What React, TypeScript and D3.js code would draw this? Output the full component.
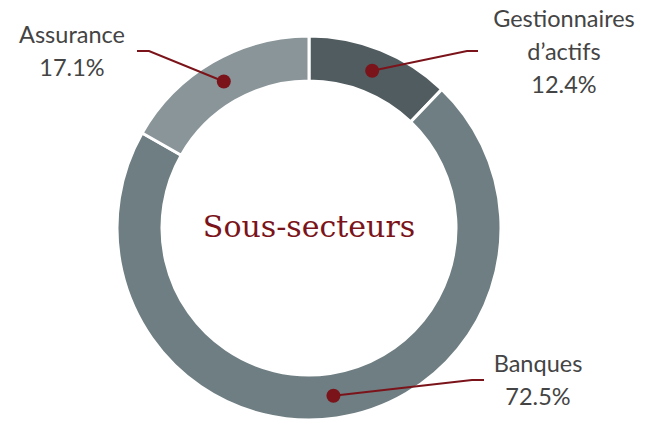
import React from "react";
import * as d3 from "d3";

const categories = ["Gestionnaires d’actifs", "Banques", "Assurance"];
const labelLines = [["Gestionnaires", "d’actifs"], ["Banques"], ["Assurance"]];
const values = [12.4, 72.5, 17.1];
const colors = ["#515c60", "#6f7e82", "#8a9599"];
const centerTitle = "Sous-secteurs";

// layout for the callouts (elbow point, line end, label centre, first baseline)
const callouts = [
  { elbow: [467, 51], end: [478, 51], tx: 564, ty: 27 },
  { elbow: [472, 380], end: [484, 380], tx: 538, ty: 372 },
  { elbow: [149, 51], end: [137, 51], tx: 72, ty: 43 },
];

const W = 653;
const H = 422;
const cx = 309;
const cy = 228;
const rOuter = 192;
const rInner = 147;
const accent = "#7b141a";

export default function App() {
  const pie = d3.pie<number>().sort(null).value((d) => d);
  const arcs = pie(values);
  const arc = d3.arc<d3.PieArcDatum<number>>().innerRadius(rInner).outerRadius(rOuter);
  const mid = d3.arc<d3.PieArcDatum<number>>().innerRadius((rInner + rOuter) / 2).outerRadius((rInner + rOuter) / 2);
  const lineGap = 33;
  return (
    <svg width={W} height={H} style={{ position: "absolute", left: 0, top: 0 }}>
      <g transform={`translate(${cx},${cy})`}>
        {arcs.map((a, i) => (
          <path key={i} d={arc(a) || ""} fill={colors[i]} stroke="#fff" strokeWidth={3} />
        ))}
      </g>
      <text x={cx} y={237} textAnchor="middle" fontFamily="'DejaVu Serif', serif" fontSize={30} fill={accent}>
        {centerTitle}
      </text>
      {arcs.map((a, i) => {
        const [mx, my] = mid.centroid(a);
        const px = cx + mx;
        const py = cy + my;
        const c = callouts[i];
        const lines = [...labelLines[i], `${values[i].toFixed(1)}%`];
        return (
          <g key={`c${i}`}>
            <polyline
              points={`${px},${py} ${c.elbow[0]},${c.elbow[1]} ${c.end[0]},${c.end[1]}`}
              fill="none"
              stroke={accent}
              strokeWidth={2}
            />
            <circle cx={px} cy={py} r={7} fill={accent} />
            <text textAnchor="middle" fontFamily="Lato, 'Open Sans', sans-serif" fontSize={23.5} fill="#444">
              {lines.map((t, j) => (
                <tspan key={j} x={c.tx} y={c.ty + j * lineGap}>{t}</tspan>
              ))}
            </text>
          </g>
        );
      })}
    </svg>
  );
}
